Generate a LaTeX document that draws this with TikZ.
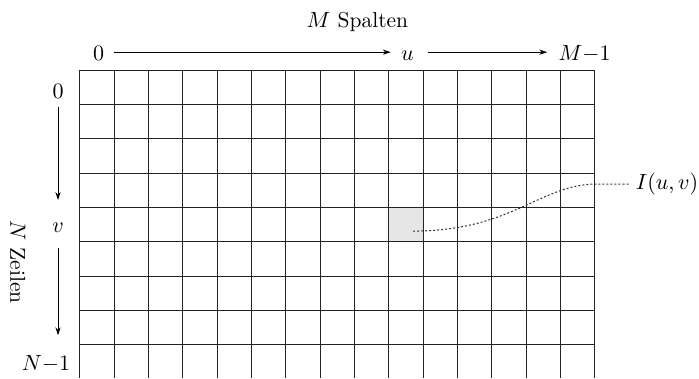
\documentclass[tikz,border=0pt]{standalone}
\usetikzlibrary{positioning,arrows.meta}
\definecolor{GridInk}{RGB}{35,35,35}
\definecolor{PixelShade}{RGB}{230,230,230}

\begin{document}
\begin{tikzpicture}[x=0.6cm, y=0.6cm, font=\fontsize{10.7pt}{13pt}\selectfont,
    gridline/.style={GridInk, line width=0.5pt},
    axislabel/.style={text height=8.5pt, text depth=0pt, inner sep=3pt},
    axisarrow/.style={-{Stealth[length=4pt,width=2.6pt]}, line width=0.4pt},
    pointer/.style={black!80, line width=0.5pt, dash pattern=on 1pt off 1pt}]
  \useasboundingbox (-2.33,2.04) rectangle (18.03,-8.97);
  % shaded pixel I(u,v)
  \fill[PixelShade] (9,-4) rectangle (10,-5);
  \foreach \x in {0,...,15} \draw[gridline] (\x,0) -- (\x,-8.97);
  \foreach \y in {0,...,8} \draw[gridline] (0,-\y) -- (15,-\y);
  % column axis
  \node[anchor=base] (title) at (8.08,1.25) {$M$ Spalten};
  \node[axislabel] (t0) at (0.54,0.52) {$0$};
  \node[axislabel] (tu) at (9.54,0.52) {$u$};
  \node[axislabel] (tM) at (14.70,0.52) {$M{-}1$};
  \draw[axisarrow, shorten <=2pt, shorten >=2pt] (t0) -- (tu);
  \draw[axisarrow, shorten <=4pt, shorten >=2.5pt] (tu) -- (tM);
  % row axis
  \node[rotate=-90] (rows) at (-1.81,-5.59) {$N$ Zeilen};
  \node (l0) at (-0.64,-0.61) {$0$};
  \node (lv) at (-0.64,-4.60) {$v$};
  \node (lN) at (-0.99,-8.56) {$N{-}1$};
  \draw[axisarrow, shorten <=0.7pt, shorten >=8pt] (l0) -- (lv);
  \draw[axisarrow, shorten <=4pt, shorten >=6.5pt] (lv) -- (lv |- lN.north);
  % pointer to the pixel
  \node (I) at (17.10,-3.32) {$I(u,v)$};
  \coordinate (pix) at (9.70,-4.69);
  \coordinate (knee) at (15.06,-3.32);
  \draw[pointer] (pix) .. controls (12.6,-4.69) and (13.4,-3.32) .. (knee) -- (I.west);
\end{tikzpicture}
\end{document}
